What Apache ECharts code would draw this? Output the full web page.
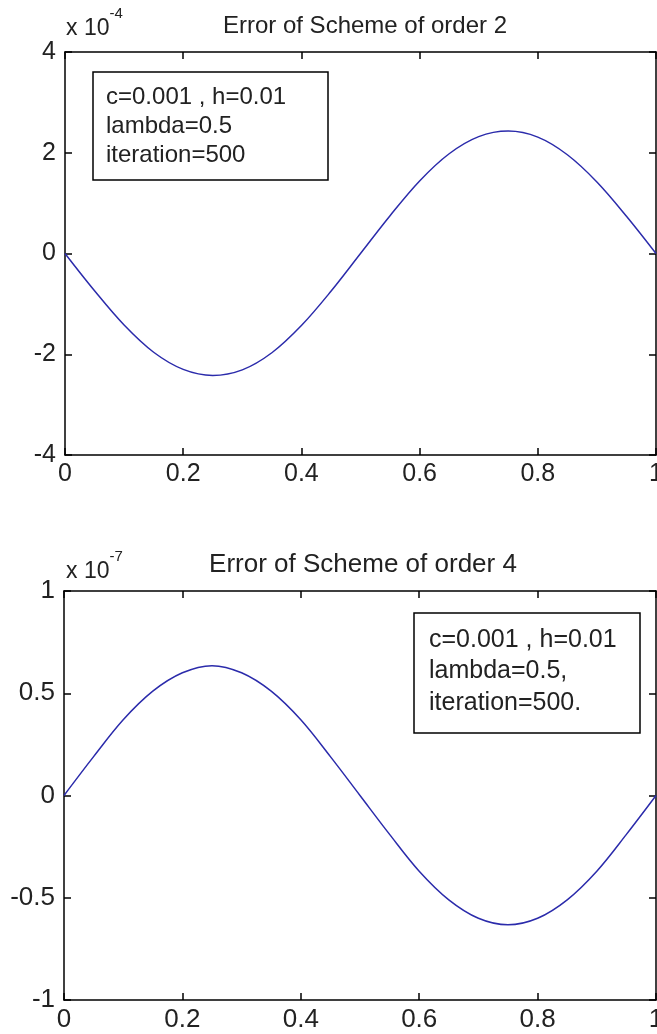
<!DOCTYPE html>
<html>
<head>
<meta charset="utf-8">
<script src="https://cdn.jsdelivr.net/npm/echarts@6/dist/echarts.min.js"></script>
<style>
  html, body { margin: 0; padding: 0; background: #fff; }
  #main { width: 657px; height: 1034px; }
</style>
</head>
<body>
<div id="main"></div>
<script>
  // x positions (0 .. 1)
  var xs = [0, 0.05, 0.1, 0.15, 0.2, 0.25, 0.3, 0.35, 0.4, 0.45, 0.5,
            0.55, 0.6, 0.65, 0.7, 0.75, 0.8, 0.85, 0.9, 0.95, 1];
  // error of order 2 scheme, in units of 1e-4
  var err2 = [0, -0.74, -1.42, -1.96, -2.30, -2.42, -2.31, -1.97, -1.43, -0.75, 0,
              0.75, 1.44, 1.98, 2.32, 2.43, 2.31, 1.96, 1.42, 0.74, 0];
  // error of order 4 scheme, in units of 1e-7
  var err4 = [0, 0.19, 0.37, 0.51, 0.60, 0.635, 0.60, 0.51, 0.37, 0.19, 0,
              -0.19, -0.37, -0.51, -0.60, -0.632, -0.60, -0.51, -0.37, -0.19, 0];
  var xTicks = [0, 0.2, 0.4, 0.6, 0.8, 1];
  var yTicks2 = [-4, -2, 0, 2, 4];
  var yTicks4 = [-1, -0.5, 0, 0.5, 1];

  var titles = ['Error of Scheme of order 2', 'Error of Scheme of order 4'];
  var notes = ['c=0.001 , h=0.01\nlambda=0.5\niteration=500',
               'c=0.001 , h=0.01\nlambda=0.5,\niteration=500.'];
  var exps = ['-4', '-7'];

  var font = "'Liberation Sans', Arial, sans-serif";
  var lineColor = '#2b2bab';

  function pts(ys) {
    return xs.map(function (x, i) { return [x, ys[i]]; });
  }

  function xAx(grid, top, size) {
    return {
      type: 'value', gridIndex: grid, position: top ? 'top' : 'bottom',
      min: xTicks[0], max: xTicks[xTicks.length - 1], interval: 0.2,
      axisLine: { onZero: false, lineStyle: { color: '#000', width: 1.5 } },
      axisTick: { inside: true, length: 7, lineStyle: { color: '#000', width: 1.5 } },
      axisLabel: { show: !top, margin: 7, fontSize: size, color: '#222', fontFamily: font },
      splitLine: { show: false }
    };
  }

  function yAx(grid, right, ticks, size) {
    return {
      type: 'value', gridIndex: grid, position: right ? 'right' : 'left',
      min: ticks[0], max: ticks[ticks.length - 1], interval: ticks[1] - ticks[0],
      axisLine: { show: true, onZero: false, lineStyle: { color: '#000', width: 1.5 } },
      axisTick: { show: true, inside: true, length: 7, lineStyle: { color: '#000', width: 1.5 } },
      axisLabel: { show: !right, margin: 9, fontSize: size, color: '#222', fontFamily: font },
      splitLine: { show: false }
    };
  }

  function expTitle(txt, top) {
    return {
      text: '{a|x 10}{b|' + txt + '}', left: 66, top: top, padding: 0,
      textStyle: {
        rich: {
          a: { fontSize: 23, fontWeight: 'normal', color: '#222', fontFamily: font, verticalAlign: 'bottom', lineHeight: 34 },
          b: { fontSize: 15, fontWeight: 'normal', color: '#222', fontFamily: font, verticalAlign: 'top', lineHeight: 34 }
        }
      }
    };
  }

  var myChart = echarts.init(document.getElementById('main'));
  var option = {
    backgroundColor: '#fff',
    animation: false,
    title: [
      {
        text: titles[0], left: 360, top: 9, textAlign: 'center',
        textStyle: { fontSize: 24, fontWeight: 'normal', color: '#222', fontFamily: font }
      },
      expTitle(exps[0], 6),
      {
        text: notes[0], left: 93, top: 72, padding: [11, 42, 10, 13],
        borderColor: '#000', borderWidth: 1.5, backgroundColor: '#fff',
        textStyle: { fontSize: 24, lineHeight: 29, fontWeight: 'normal', color: '#222', fontFamily: font }
      },
      {
        text: titles[1], left: 358, top: 547, textAlign: 'center',
        textStyle: { fontSize: 26, fontWeight: 'normal', color: '#222', fontFamily: font }
      },
      expTitle(exps[1], 549),
      {
        text: notes[1], left: 414, top: 613, padding: [11, 24, 15, 15],
        borderColor: '#000', borderWidth: 1.5, backgroundColor: '#fff',
        textStyle: { fontSize: 25, lineHeight: 31.5, fontWeight: 'normal', color: '#222', fontFamily: font }
      }
    ],
    grid: [
      { left: 65, top: 52, width: 591, height: 403, outerBoundsMode: 'none' },
      { left: 64, top: 591, width: 592, height: 409, outerBoundsMode: 'none' }
    ],
    xAxis: [xAx(0, false, 25), xAx(0, true, 25), xAx(1, false, 26), xAx(1, true, 26)],
    yAxis: [yAx(0, false, yTicks2, 25), yAx(0, true, yTicks2, 25),
            yAx(1, false, yTicks4, 26), yAx(1, true, yTicks4, 26)],
    series: [
      {
        type: 'line', xAxisIndex: 0, yAxisIndex: 0, data: pts(err2),
        smooth: 0.35, showSymbol: false, lineStyle: { color: lineColor, width: 1.5 }
      },
      {
        type: 'line', xAxisIndex: 2, yAxisIndex: 2, data: pts(err4),
        smooth: 0.35, showSymbol: false, lineStyle: { color: lineColor, width: 1.5 }
      }
    ]
  };
  myChart.setOption(option);
</script>
</body>
</html>
